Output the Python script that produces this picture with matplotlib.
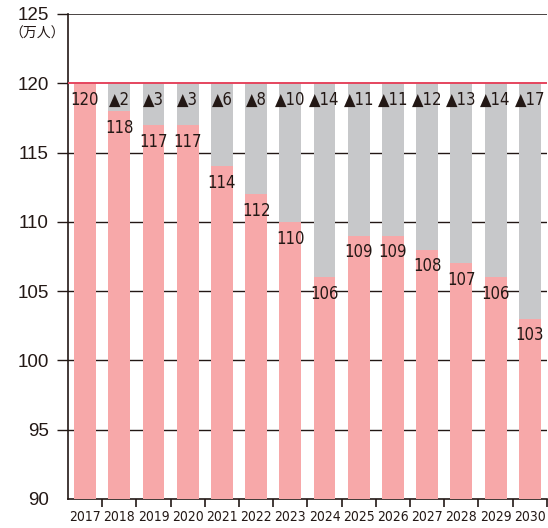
import matplotlib.pyplot as plt
import numpy as np

# data
years = ['2017', '2018', '2019', '2020', '2021', '2022', '2023',
         '2024', '2025', '2026', '2027', '2028', '2029', '2030']
values = [120, 118, 117, 117, 114, 112, 110, 106, 109, 109, 108, 107, 106, 103]
decrease = [0, 2, 3, 3, 6, 8, 10, 14, 11, 11, 12, 13, 14, 17]
base = 120
yticks = [90, 95, 100, 105, 110, 115, 120, 125]

pink = '#F7A8A9'
gray = '#C7C8CA'
red = '#E5455E'
ink = '#231815'

plt.rcParams['font.family'] = ['DejaVu Sans']
plt.rcParams['font.stretch'] = 'condensed'

fig = plt.figure(figsize=(5.48, 5.28), dpi=100)
ax = fig.add_axes([0.124, 0.055, 0.874, 0.9185])

x = np.arange(len(years))
ax.bar(x, [base - 90] * len(years), bottom=90, width=0.64, color=gray, zorder=2)
ax.bar(x, np.array(values) - 90, bottom=90, width=0.64, color=pink, zorder=3)

# horizontal lines behind the bars
for yv in yticks[1:-2]:
    ax.axhline(yv, color=ink, lw=1.0, zorder=1)
ax.axhline(125, color='#4a4443', lw=1.4, zorder=1)
ax.axhline(120, color=red, lw=1.4, zorder=4)

for i in range(len(years)):
    ax.annotate(str(values[i]), (x[i], values[i]), xytext=(0, -12),
                textcoords='offset points', ha='center', va='center',
                fontsize=12, color=ink, zorder=5)
    if decrease[i] > 0:
        ax.annotate('▲' + str(decrease[i]), (x[i], base), xytext=(0, -12),
                    textcoords='offset points', ha='center', va='center',
                    fontsize=12, color=ink, zorder=5)

ax.set_xlim(-0.5, len(years) - 0.5)
ax.set_ylim(90, 125)
ax.set_yticks(yticks)
ax.set_yticklabels([str(t) for t in yticks], fontsize=13.5, color=ink,
                   family='Liberation Sans', stretch='normal')
ax.tick_params(axis='y', length=8, width=1.0, color=ink, pad=6)
ytl = ax.yaxis.get_major_ticks()
ytl[0].tick1line.set_visible(False)
ytl[6].tick1line.set_color(red)
ytl[7].tick1line.set_color('#4a4443')

ax.set_xticks(x)
ax.set_xticklabels(years, fontsize=10, color=ink)
ax.set_xticks(np.arange(len(years)) + 0.5, minor=True)
ax.tick_params(axis='x', which='major', length=0, pad=8)
ax.tick_params(axis='x', which='minor', length=6, width=1.2, color=ink)

for s in ['top', 'right']:
    ax.spines[s].set_visible(False)
ax.spines['left'].set_color(ink)
ax.spines['bottom'].set_color(ink)
ax.spines['left'].set_linewidth(1.2)
ax.spines['bottom'].set_linewidth(1.2)

fig.text(0.068, 0.937, '（万人）', fontsize=10, color=ink, ha='center', va='center',
         family=['Noto Sans CJK JP', 'DejaVu Sans'])

fig.savefig('out.png', dpi=100)
